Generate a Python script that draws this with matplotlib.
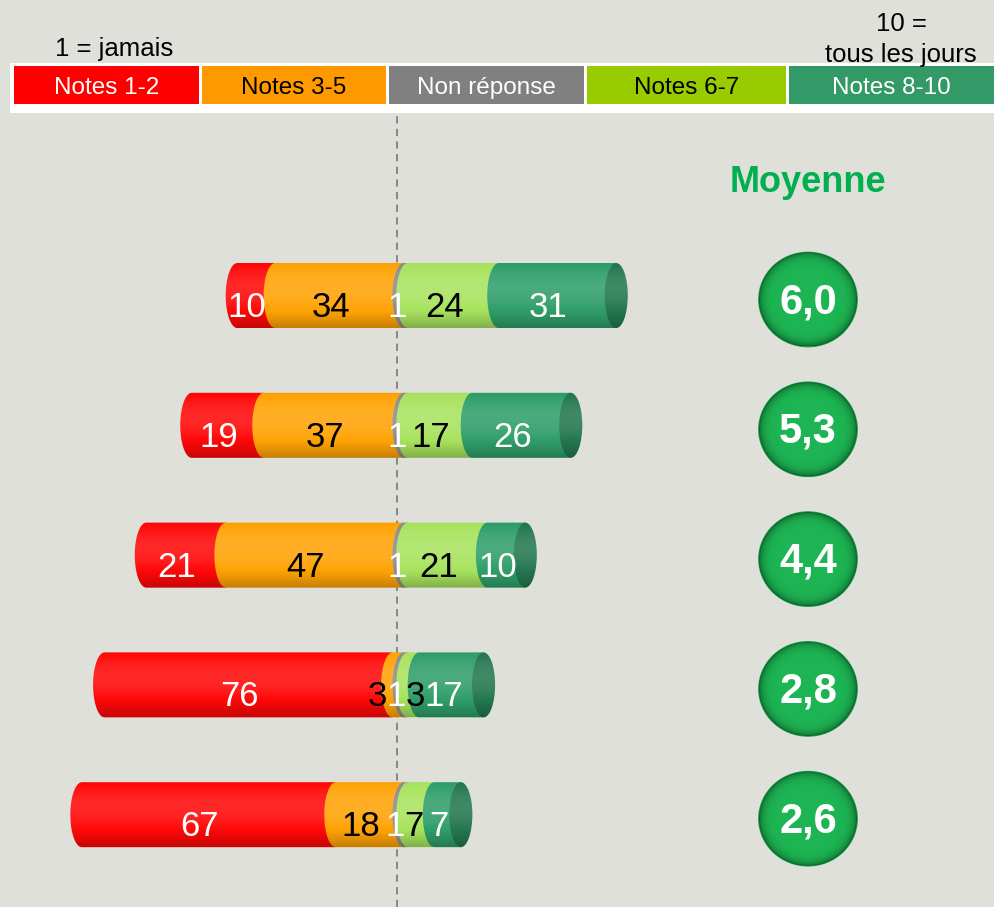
import numpy as np
import matplotlib
matplotlib.use("Agg")
import matplotlib.pyplot as plt
from matplotlib.patches import Rectangle, Ellipse, PathPatch
from matplotlib.path import Path
import matplotlib.colors as mcolors

plt.rcParams['font.family'] = ['Liberation Sans', 'DejaVu Sans']

# values per row (top to bottom)
notes_12 = [10, 19, 21, 76, 67]
notes_35 = [34, 37, 47, 3, 18]
non_rep = [1, 1, 1, 1, 1]
notes_67 = [24, 17, 21, 3, 7]
notes_810 = [31, 26, 10, 17, 7]
moyennes = ['6,0', '5,3', '4,4', '2,8', '2,6']

legend_labels = ['Notes 1-2', 'Notes 3-5', 'Non réponse', 'Notes 6-7', 'Notes 8-10']
legend_colors = ['#ff0000', '#ff9900', '#808080', '#99cc00', '#339966']
legend_widths = [188, 187, 198, 202, 210]
text_colors = ['white', 'black', 'white', 'black', 'white']
bar_colors = ['#ff0808', '#ffa305', '#8c8c8c', '#a8e35e', '#2f9e6a']

# pixel geometry of the picture
W, H = 994, 907
PXX = 3.79      # px per percent
X0 = 404        # px of the neutral split
Y0 = 295.5      # px of first bar centre
PYY = 129.8     # px between bars
BAR_H = 65 / PYY
CAP_W = 11.5 / PXX

fig = plt.figure(figsize=(W / 100, H / 100), dpi=100, facecolor='#dfe0da')
ax = fig.add_axes([0, 0, 1, 1])
ax.set_facecolor('none')
ax.axis('off')


def shade(n=120):
    t = np.linspace(0, 1, n)
    m = 0.8 + 0.3 * np.cos((t - 0.38) * np.pi / 1.3)
    rgba = np.zeros((n, 1, 4))
    hi = m > 1
    rgba[hi, 0, :3] = 1
    rgba[hi, 0, 3] = (m[hi] - 1) * 1.3
    rgba[~hi, 0, 3] = (1 - m[~hi]) * 1.3
    return rgba


def left_arc(x, yc, h, w, n=40):
    th = np.linspace(np.pi / 2, 3 * np.pi / 2, n)
    return np.column_stack([x + w * np.cos(th), yc - h / 2 * np.sin(th)])


def closed(verts):
    verts = np.vstack([verts, verts[:1]])
    codes = [Path.MOVETO] + [Path.LINETO] * (len(verts) - 2) + [Path.CLOSEPOLY]
    return Path(verts, codes)


def spread(pos, labels, per_char=9.5 / PXX):
    # push neighbouring labels apart so they do not sit on each other
    pos = list(pos)
    for _ in range(60):
        for j in range(len(pos) - 1):
            sep = per_char * (len(labels[j]) + len(labels[j + 1]))
            gap = pos[j + 1] - pos[j]
            if gap < sep:
                d = (sep - gap) / 2
                pos[j] -= d
                pos[j + 1] += d
    return pos


rows = list(zip(notes_12, notes_35, non_rep, notes_67, notes_810))
shd = shade()

for i, vals in enumerate(rows):
    yc = i
    start = -(vals[0] + vals[1])
    edges = np.concatenate([[start], start + np.cumsum(vals)])
    for k in range(5):
        a, b = edges[k], edges[k + 1]
        arc = left_arc(a, yc, BAR_H, CAP_W)
        verts = np.vstack([arc, [[b, yc + BAR_H / 2], [b, yc - BAR_H / 2]]])
        ax.add_patch(PathPatch(closed(verts), facecolor=bar_colors[k],
                               edgecolor='none', zorder=2))
    end = edges[-1]
    cap_col = np.array(mcolors.to_rgb(bar_colors[4])) * 0.75
    ax.add_patch(Ellipse((end, yc), 2 * CAP_W, BAR_H, facecolor=cap_col,
                         edgecolor='none', zorder=3))
    # cylinder shading
    th2 = np.linspace(-np.pi / 2, np.pi / 2, 40)
    right = np.column_stack([end + CAP_W * np.cos(th2), yc - BAR_H / 2 * np.sin(th2)])
    outline = PathPatch(closed(np.vstack([left_arc(start, yc, BAR_H, CAP_W), right])),
                        facecolor='none', edgecolor='none', transform=ax.transData)
    ax.add_patch(outline)
    im = ax.imshow(shd, extent=(start - CAP_W, end + CAP_W, yc + BAR_H / 2, yc - BAR_H / 2),
                   origin='upper', aspect='auto', interpolation='bilinear', zorder=4)
    im.set_clip_path(outline)
    # value labels
    labels = [str(v) for v in vals]
    xs = [(edges[k] + edges[k + 1]) / 2 - 9 / PXX for k in range(5)]
    xs = spread(xs, labels)
    for k in range(5):
        ax.text(xs[k], yc + 21.5 / PYY, labels[k], ha='center', va='baseline',
                fontsize=25, color=text_colors[k], zorder=5)

# means
cx = (808 - X0) / PXX
ax.text(cx, (192 - Y0) / PYY, 'Moyenne', ha='center', va='baseline', fontsize=26,
        fontweight='bold', color='#00b050')
gx, gy = np.meshgrid(np.linspace(-1, 1, 80), np.linspace(-1, 1, 80))
rr = np.clip(np.hypot(gx, gy), 0, 1)
radial = np.zeros((80, 80, 4))
radial[..., 3] = 0.35 * rr ** 10
for i, m in enumerate(moyennes):
    cy = i + 4 / PYY
    ew, eh = 98 / PXX, 94 / PYY
    circ = Ellipse((cx, cy), ew, eh, facecolor='#1db553', edgecolor='#129a43',
                   lw=1.2, zorder=2)
    ax.add_patch(circ)
    im = ax.imshow(radial, extent=(cx - ew / 2, cx + ew / 2, cy + eh / 2, cy - eh / 2),
                   origin='upper', aspect='auto', interpolation='bilinear', zorder=3)
    im.set_clip_path(circ)
    ax.text(cx, i + 17.5 / PYY, m, ha='center', va='baseline', fontsize=30,
            fontweight='bold', color='white', zorder=5)

# centre dashed line
ax.axvline((397 - X0) / PXX, ymin=0, ymax=(H - 115) / H, color='#808080',
           ls=(0, (4, 3)), lw=1.3, zorder=1)

ax.set_xlim(-X0 / PXX, (W - X0) / PXX)
ax.set_ylim((H - Y0) / PYY, -Y0 / PYY)

# header legend (pixel coordinates)
hdr = fig.add_axes([0, 0, 1, 1])
hdr.set_facecolor('none')
hdr.axis('off')
hdr.set_xlim(0, W)
hdr.set_ylim(H, 0)
hdr.add_patch(Rectangle((10, 63), W - 10, 50, facecolor='white', edgecolor='none'))
x = 14
for lab, col, wd, tc in zip(legend_labels, legend_colors, legend_widths, text_colors):
    hdr.add_patch(Rectangle((x, 66), wd - 3, 38, facecolor=col, edgecolor='none'))
    cxt = x + (wd - 3) / 2 if x + wd < W else x + (W - x) / 2
    hdr.text(cxt, 94, lab, ha='center', va='baseline', fontsize=17.5, color=tc)
    x += wd
hdr.text(114, 56, '1 = jamais', ha='center', va='baseline', fontsize=18.5, color='black')
hdr.text(901, 31, '10 =', ha='center', va='baseline', fontsize=18.5, color='black')
hdr.text(901, 62, 'tous les jours', ha='center', va='baseline', fontsize=18.5, color='black')

fig.savefig('out.png', dpi=100, facecolor=fig.get_facecolor())
